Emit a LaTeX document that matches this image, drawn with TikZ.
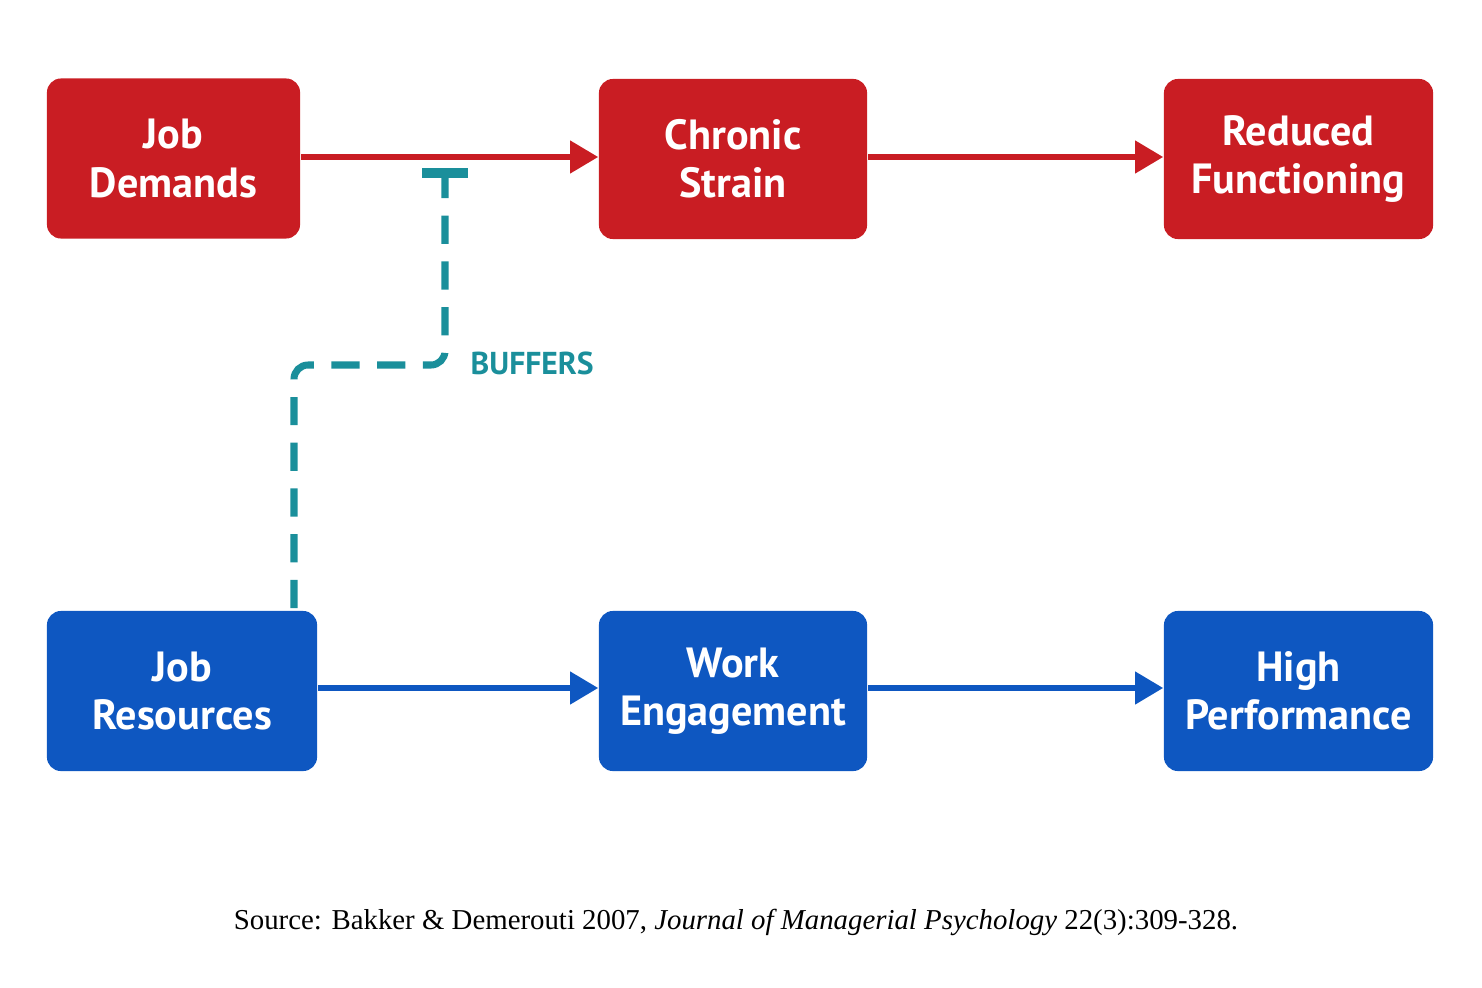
\documentclass[tikz,border=0pt]{standalone}
\usepackage{fontspec}
\setmainfont{Liberation Serif}
\newfontfamily\boxfont{PT Sans}
\usepackage{tikz}
\usetikzlibrary{arrows.meta}
\definecolor{demandred}{HTML}{C91D23}
\definecolor{resblue}{HTML}{0E57C1}
\definecolor{bufteal}{HTML}{1A8F9B}

\begin{document}
\begin{tikzpicture}[x=0.01cm,y=-0.01cm,
		box/.style={rounded corners=4pt, text=white, align=center, minimum height=1.6cm,
			font=\boxfont\bfseries\fontsize{12}{13.7}\selectfont},
		redbox/.style={box, fill=demandred},
		bluebox/.style={box, fill=resblue},
		link/.style={line width=1.6pt, -{Triangle[length=8pt,width=9pt]}}]
		\useasboundingbox (0,0) rectangle (1482,988);
		
		%% Demands path
		\node[redbox, minimum width=2.53cm] (jd) at (173.5,158.5) {Job\\Demands};
		\node[redbox, minimum width=2.68cm] (cs) at (733,159) {Chronic\\Strain};
		\node[redbox, minimum width=2.69cm] (rf) at (1298.5,159) {Reduced\\Functioning};
		\draw[link, demandred] (jd.east |- 0,157) -- (cs.west |- 0,157);
		\draw[link, demandred] (cs.east |- 0,157) -- (rf.west |- 0,157);
		
		%% Motivational path
		\node[bluebox, minimum width=2.70cm] (jr) at (182,691) {Job\\Resources};
		\node[bluebox, minimum width=2.68cm] (we) at (733,691) {Work\\Engagement};
		\node[bluebox, minimum width=2.69cm] (hp) at (1298.5,691) {High\\Performance};
		\draw[link, resblue] (jr.east |- 0,688) -- (we.west |- 0,688);
		\draw[link, resblue] (we.east |- 0,688) -- (hp.west |- 0,688);
		
		% Buffering effect
		\coordinate (bar) at (445,173);
		\coordinate (foot) at (294,608);
		\draw[bufteal, line width=2pt, dash pattern=on 8pt off 5pt, rounded corners=4pt]
			(foot) -- (294,365) -- (445,365) -- (bar);
		\draw[bufteal, line width=2.6pt] (422,173) -- (468,173);
		\node[anchor=west, inner sep=0pt, text=bufteal, font=\boxfont\bfseries\fontsize{9}{10}\selectfont] (buf) at (470,363) {BUFFERS};
		
		% Source
		\node[font=\fontsize{8.2}{10}\selectfont] (src) at (736,922)
			{Source: Bakker \& Demerouti 2007, \textit{Journal of Managerial Psychology} 22(3):309-328.};
	\end{tikzpicture}
\end{document}
